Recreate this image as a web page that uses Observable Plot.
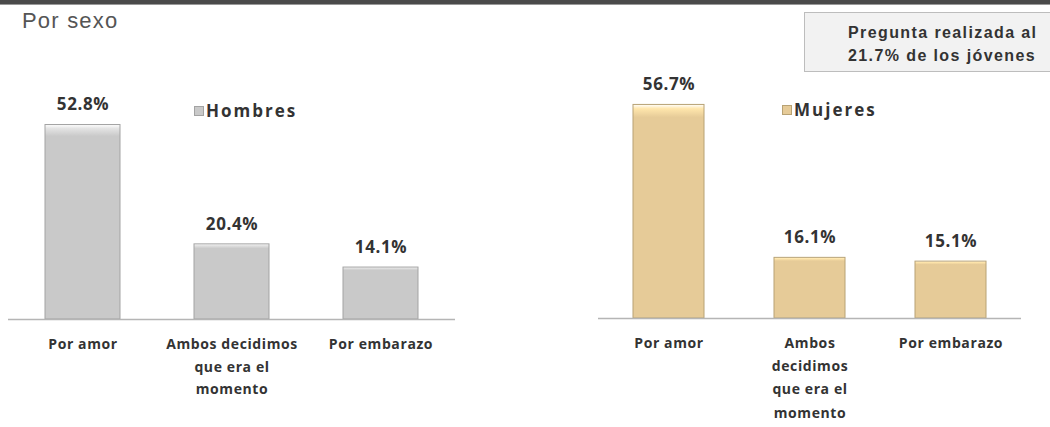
<!DOCTYPE html>
<html>
<head>
<meta charset="utf-8">
<script src="https://cdn.jsdelivr.net/npm/d3@7"></script>
<script src="https://cdn.jsdelivr.net/npm/@observablehq/plot@0.6"></script>
<style>
  html, body { margin: 0; padding: 0; background: #fff; }
  #wrap { position: relative; width: 1050px; height: 427px; overflow: hidden; font-family: "Open Sans", sans-serif; }
  #topline { position: absolute; left: 0; top: 0; width: 1050px; height: 4px; background: #4a4a4a; border-bottom: 1px solid #999; }
  #title { position: absolute; left: 22px; top: 8px; font-family: "Liberation Sans", Arial, sans-serif; font-size: 22px; letter-spacing: 1.2px; color: #555; }
  #note { position: absolute; left: 804px; top: 12px; width: 260px; height: 60px; background: #f2f2f2; border: 1px solid #bdbdbd; box-sizing: border-box;
          font-family: "Liberation Sans", Arial, sans-serif; font-weight: bold; font-size: 16px; letter-spacing: 1.4px; color: #333; line-height: 23px; padding: 8px 0 0 43px; white-space: nowrap; }
  .plot { position: absolute; top: 0; }
  .legend { position: absolute; font-weight: bold; font-size: 17px; letter-spacing: 2px; color: #333; display: flex; align-items: center; }
  .legend .sw { width: 8px; height: 8px; margin-right: 2px; }
</style>
</head>
<body>
<div id="wrap">
  <div id="topline"></div>
  <div id="title"></div>
  <div id="note"></div>
</div>
<script>
const titleText = "Por sexo";
const noteLines = ["Pregunta realizada al", "21.7% de los jóvenes"];
const categories = ["Por amor", "Ambos decidimos que era el momento", "Por embarazo"];
const hombresValues = [52.8, 20.4, 14.1];
const mujeresValues = [56.7, 16.1, 15.1];
const hombresLabels = ["Por amor", "Ambos decidimos\nque era el\nmomento", "Por embarazo"];
const mujeresLabels = ["Por amor", "Ambos\ndecidimos\nque era el\nmomento", "Por embarazo"];
const seriesNames = ["Hombres", "Mujeres"];
const seriesColors = ["#c9c9c9", "#e6cb98"];
const seriesStrokes = ["#a3a3a3", "#b8a274"];

document.getElementById("title").textContent = titleText;
document.getElementById("note").innerHTML = noteLines.map(s => `<div>${s}</div>`).join("");

function makeChart(values, labels, fill, stroke, opts) {
  const data = categories.map((c, i) => ({cat: c, value: values[i], label: labels[i]}));
  const labelOf = new Map(data.map(d => [d.cat, d.label]));
  const gradId = "g" + Math.random().toString(36).slice(2);
  const chart = Plot.plot({
    width: opts.width,
    height: 427,
    marginLeft: opts.marginLeft,
    marginRight: opts.marginRight,
    marginTop: opts.marginTop,
    marginBottom: opts.marginBottom,
    style: {fontFamily: "'Open Sans', sans-serif", background: "transparent"},
    x: {domain: categories, paddingInner: 0.5, paddingOuter: 0.25, label: null},
    y: {domain: [0, 60], axis: null},
    marks: [
      Plot.barY(data, {x: "cat", y: "value", fill: `url(#${gradId})`, stroke: stroke, strokeWidth: 1}),
      Plot.ruleY([0], {stroke: "#b5b5b5", strokeWidth: 1.5}),
      Plot.text(data, {x: "cat", y: "value", text: d => d.value.toFixed(1) + "%", dy: -20, fontSize: 17, fontWeight: "bold", fill: "#333"}),
      Plot.axisX({tickSize: 0, tickPadding: opts.tickPadding, tickFormat: d => labelOf.get(d), fontSize: 14, fontWeight: "bold", fill: "#333", lineHeight: opts.lineHeight, label: null})
    ]
  });
  const svg = d3.select(chart);
  svg.selectAll("text").style("letter-spacing", "0.6px");
  const defs = svg.insert("defs", ":first-child");
  const g = defs.append("linearGradient").attr("id", gradId).attr("x1", 0).attr("x2", 0).attr("y1", 0).attr("y2", 1);
  g.append("stop").attr("offset", "0").attr("stop-color", "#ffffff");
  g.append("stop").attr("offset", "0.02").attr("stop-color", d3.color(fill).brighter(0.35));
  g.append("stop").attr("offset", "0.06").attr("stop-color", fill);
  g.append("stop").attr("offset", "1").attr("stop-color", fill);
  chart.classList.add("plot");
  chart.style.left = opts.left + "px";
  return chart;
}

const wrap = document.getElementById("wrap");
wrap.appendChild(makeChart(hombresValues, hombresLabels, seriesColors[0], seriesStrokes[0],
  {left: 0, width: 460, marginLeft: 8, marginRight: 5, marginTop: 98, marginBottom: 108, tickPadding: 14, lineHeight: 1.6}));
wrap.appendChild(makeChart(mujeresValues, mujeresLabels, seriesColors[1], seriesStrokes[1],
  {left: 590, width: 460, marginLeft: 8, marginRight: 29, marginTop: 92, marginBottom: 109, tickPadding: 13, lineHeight: 1.66}));

const legendPos = [{left: 194, top: 99}, {left: 782, top: 98}];
seriesNames.forEach((name, i) => {
  const el = document.createElement("div");
  el.className = "legend";
  el.style.left = legendPos[i].left + "px";
  el.style.top = legendPos[i].top + "px";
  el.innerHTML = `<span class="sw" style="background:${seriesColors[i]};border:1px solid ${seriesStrokes[i]}"></span><span>${name}</span>`;
  wrap.appendChild(el);
});
wrap.appendChild(document.getElementById("note"));
</script>
</body>
</html>
